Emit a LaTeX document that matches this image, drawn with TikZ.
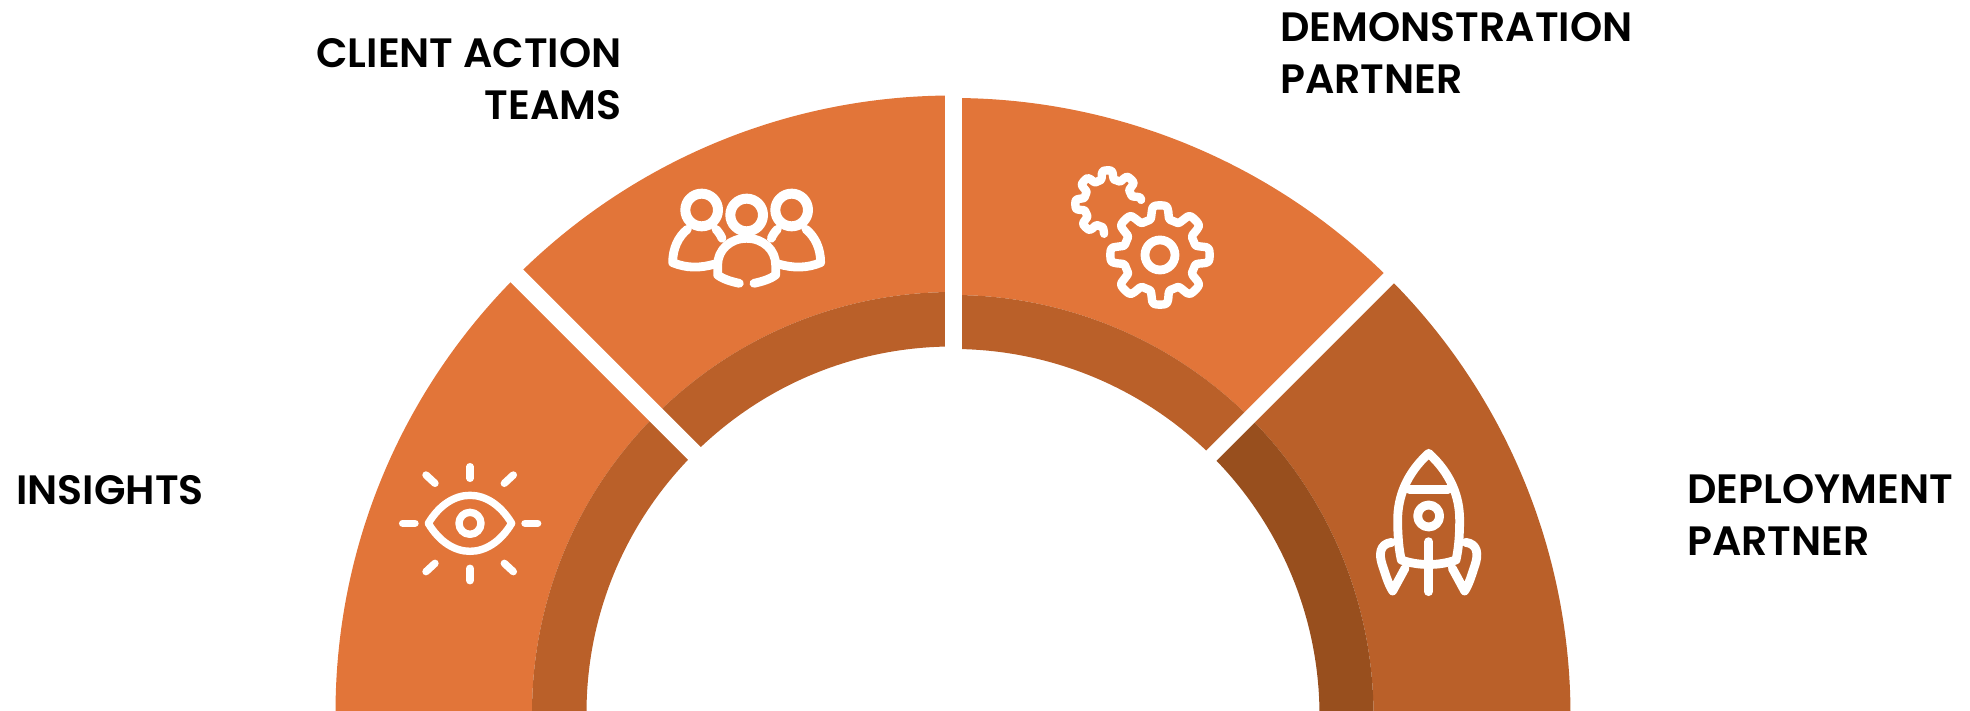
\documentclass[tikz,border=0pt]{standalone}
\usepackage{fontspec}
\setmainfont{Poppins}[BoldFont={Poppins SemiBold}]
\usetikzlibrary{calc}
\definecolor{ringorange}{RGB}{226,117,57}
\definecolor{ringbrown}{RGB}{186,96,41}
\definecolor{ringdark}{RGB}{152,79,30}
\tikzstyle{label} = [inner sep=0pt, font=\fontsize{20.5}{26}\selectfont\bfseries, text=black]
\tikzstyle{icon} = [draw=white, line width=3.7pt, line cap=round, line join=round]
\tikzstyle{thickicon} = [icon, line width=4.4pt]
\tikzstyle{gap} = [draw=white, line width=8.5pt]
% one piece of the ring: centre, start, end, outer radius, inner radius, colour
\newcommand{\ringpart}[6]{
\fill[#6] ($(#1)+(#2:#4)$) arc[start angle=#2, end angle=#3, radius=#4] -- ($(#1)+(#3:#5)$) arc[start angle=#3, end angle=#2, radius=#5] -- cycle;
}
\begin{document}
\begin{tikzpicture}[x=0.5pt, y=0.5pt, yscale=-1]
\useasboundingbox (0,0) rectangle (1970,711);
\clip (0,0) rectangle (1970,711);
\coordinate (cl) at (953,713);
\coordinate (cr) at (953,715.5);

% Ring
\ringpart{cl}{180}{270}{617.5}{421}{ringorange}
\ringpart{cl}{180}{270}{421}{366.5}{ringbrown}
\ringpart{cr}{270}{315}{617.5}{420.5}{ringorange}
\ringpart{cr}{270}{315}{420.5}{366.5}{ringbrown}
\ringpart{cr}{315}{360}{617.5}{420.5}{ringbrown}
\ringpart{cr}{315}{360}{420.5}{366.5}{ringdark}

% Gaps
\draw[gap] (953.5,70) -- (953.5,380);
\draw[gap, line width=8.85pt] (500,259) -- (715,474);
\draw[gap, line width=7.15pt] (1415,252) -- (1195,472);

% Eye
\begin{scope}[shift={(380,440)}, scale=0.3333]
\draw[icon] (145,250) .. controls (212,138) and (328,138) .. (395,250) .. controls (328,362) and (212,362) .. cycle;
\draw[icon] (270,250) circle (33);
\draw[icon] (270,80) -- (270,115);
\draw[icon] (270,385) -- (270,422);
\draw[icon] (68,250) -- (105,250);
\draw[icon] (435,250) -- (473,250);
\draw[icon] (138,105) -- (165,130);
\draw[icon] (400,105) -- (373,130);
\draw[icon] (138,395) -- (165,370);
\draw[icon] (400,395) -- (373,370);
\end{scope}

% Team
\begin{scope}[shift={(650,170)}, scale=0.3333]
\draw[thickicon, line width=5pt] (155,120) circle (49);
\draw[thickicon, line width=5pt] (425,120) circle (49);
\draw[thickicon, line width=5pt] (290,135) circle (49);
\draw[thickicon] (195,282) .. controls (150,295) and (110,295) .. (68,278) .. controls (68,235) and (85,200) .. (112,178);
\draw[thickicon] (198,178) .. controls (205,185) and (212,195) .. (216,205);
\draw[thickicon] (385,282) .. controls (430,295) and (470,295) .. (512,278) .. controls (512,235) and (495,200) .. (468,178);
\draw[thickicon] (382,178) .. controls (375,185) and (368,195) .. (364,205);
\draw[thickicon] (268,340) .. controls (245,335) and (220,328) .. (203,315) -- (203,285) .. controls (203,240) and (240,205) .. (290,205) .. controls (340,205) and (377,240) .. (377,285) -- (377,315) .. controls (360,328) and (335,335) .. (312,340);
\end{scope}

% Gears
\begin{scope}[shift={(1050,150)}, scale=0.3333]
\draw[thickicon] (330,315) circle (45);
\begin{scope}[shift={(330,315)}]
\draw[icon, line width=4.2pt] plot[domain=0:358, samples=145, smooth cycle] (\x:{129+20*tanh(3*cos(8*\x))});
\end{scope}
\begin{scope}[shift={(175,160)}]
\draw[icon, line width=4.2pt] plot[domain=-262:-6, samples=105, smooth] (\x:{86+13*tanh(3*cos(8*(\x+2)))});
\end{scope}
\end{scope}

% Rocket
\begin{scope}[shift={(1350,430)}, scale=0.3333]
\draw[thickicon] (236,70) .. controls (170,130) and (143,200) .. (143,270) .. controls (143,320) and (147,360) .. (154,390) .. controls (205,408) and (267,408) .. (318,390) .. controls (325,360) and (329,320) .. (329,270) .. controls (329,200) and (302,130) .. (236,70) -- cycle;
\draw[thickicon] (178,178) -- (294,178);
\draw[thickicon] (236,258) circle (33);
\draw[thickicon] (236,335) -- (236,485);
\draw[thickicon] (125,337) .. controls (87,342) and (87,375) .. (97,405) .. controls (107,435) and (115,463) .. (128,483) -- (165,415);
\draw[thickicon] (347,337) .. controls (385,342) and (385,375) .. (375,405) .. controls (365,435) and (357,463) .. (344,483) -- (307,415);
\end{scope}

% Labels
\node[label, anchor=west] (insights) at (16,490) {INSIGHTS};
\node[label, anchor=north east, align=right] (client) at (622,38) {CLIENT ACTION\\TEAMS};
\node[label, anchor=north west, align=left] (demo) at (1280,12.5) {DEMONSTRATION\\PARTNER};
\node[label, anchor=north west, align=left] (deploy) at (1687,474) {DEPLOYMENT\\PARTNER};
\end{tikzpicture}
\end{document}
